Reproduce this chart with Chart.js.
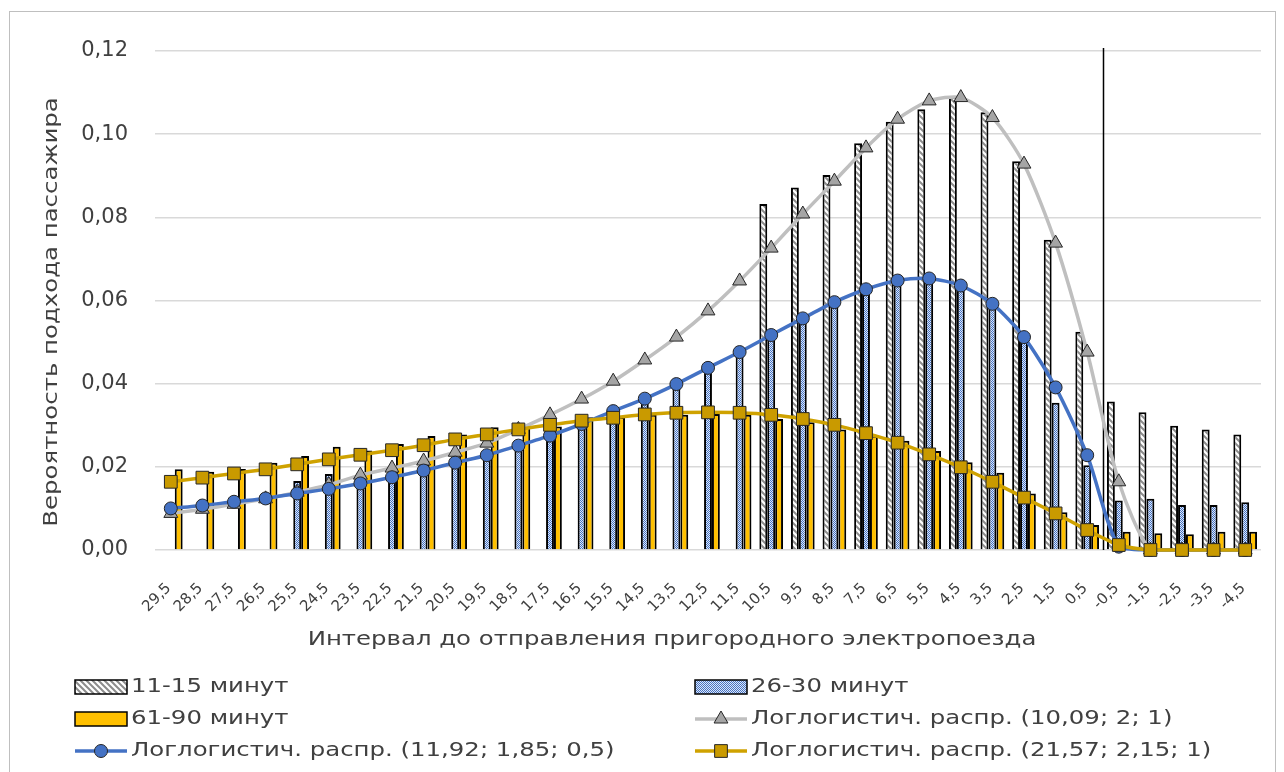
<!DOCTYPE html>
<html>
<head>
<meta charset="utf-8">
<script src="https://cdn.jsdelivr.net/npm/chart.js@4.4.1/dist/chart.umd.min.js"></script>
<style>
  html, body { margin: 0; padding: 0; background: #ffffff; }
  canvas { display: block; }
</style>
</head>
<body>
<canvas id="chart" width="1284" height="772"></canvas>
<script>
// Interval before departure (minutes), shown as category labels
const categories = ['29,5','28,5','27,5','26,5','25,5','24,5','23,5','22,5','21,5','20,5',
  '19,5','18,5','17,5','16,5','15,5','14,5','13,5','12,5','11,5','10,5',
  '9,5','8,5','7,5','6,5','5,5','4,5','3,5','2,5','1,5','0,5',
  '-0,5','-1,5','-2,5','-3,5','-4,5'];

// Observed arrival probabilities (bars)
const obs11to15 = [null,null,null,null,null,null,null,null,null,null,
  null,null,null,null,null,null,null,null,null,0.0832,
  0.0872,0.0902,0.0978,0.1030,0.1060,0.1090,0.1053,0.0935,0.0746,0.0525,
  0.0357,0.0331,0.0299,0.0290,0.0278];
const obs26to30 = [null,null,null,null,0.0166,0.0183,0.0186,0.0180,0.0190,0.0205,
  0.0224,0.0248,0.0272,0.0300,0.0331,0.0362,0.0396,0.0434,0.0472,0.0512,
  0.0552,0.0590,0.0622,0.0640,0.0648,0.0630,0.0585,0.0505,0.0354,0.0204,
  0.0119,0.0123,0.0108,0.0108,0.0115];
const obs61to90 = [0.0194,0.0188,0.0195,0.0210,0.0226,0.0248,0.0239,0.0255,0.0274,0.0278,
  0.0295,0.0298,0.0297,0.0319,0.0319,0.0325,0.0325,0.0327,0.0325,0.0315,
  0.0307,0.0290,0.0275,0.0263,0.0238,0.0211,0.0186,0.0136,0.0091,0.0060,
  0.0044,0.0040,0.0038,0.0044,0.0044];

// Fitted log-logistic curves (lines)
const fitA = [0.0088,0.0098,0.0110,0.0123,0.0139,0.0157,0.0180,0.0197,0.0214,0.0235,
  0.0257,0.0290,0.0325,0.0363,0.0406,0.0457,0.0512,0.0575,0.0647,0.0726,
  0.0808,0.0887,0.0967,0.1036,0.1080,0.1088,0.1040,0.0928,0.0738,0.0476,
  0.0164,0,0,0,0];
const fitB = [0.0100,0.0107,0.0116,0.0124,0.0136,0.0147,0.0160,0.0175,0.0191,0.0210,
  0.0228,0.0251,0.0275,0.0303,0.0334,0.0364,0.0399,0.0438,0.0476,0.0517,
  0.0557,0.0596,0.0627,0.0648,0.0653,0.0636,0.0592,0.0512,0.0391,0.0228,
  0.0008,0,0,0,0];
const fitC = [0.0164,0.0174,0.0184,0.0194,0.0206,0.0218,0.0229,0.0240,0.0252,0.0266,
  0.0278,0.0290,0.0301,0.0311,0.0318,0.0326,0.0330,0.0331,0.0330,0.0325,
  0.0315,0.0301,0.0281,0.0258,0.0230,0.0199,0.0164,0.0126,0.0088,0.0048,
  0.0012,0,0,0,0];

const seriesNames = ['11-15 минут', '26-30 минут', '61-90 минут',
  'Логлогистич. распр. (10,09; 2; 1)',
  'Логлогистич. распр. (11,92; 1,85; 0,5)',
  'Логлогистич. распр. (21,57; 2,15; 1)'];

const yTitle = 'Вероятность подхода пассажира';
const xTitle = 'Интервал до отправления пригородного электропоезда';

const FONT = '"DejaVu Sans", sans-serif';
const TEXT = '#404040';
const WIDE = 1.22; // horizontal stretch for a wide geometric look

// Fill patterns for the bars
function hatchFill() {
  const c = document.createElement('canvas');
  c.width = 6; c.height = 6;
  const g = c.getContext('2d');
  g.fillStyle = '#ffffff'; g.fillRect(0, 0, 6, 6);
  g.strokeStyle = '#8c8c8c'; g.lineWidth = 2;
  g.beginPath();
  g.moveTo(-1, -1); g.lineTo(7, 7);
  g.moveTo(-1, 5); g.lineTo(1, 7);
  g.moveTo(5, -1); g.lineTo(7, 1);
  g.stroke();
  return g.createPattern(c, 'repeat');
}
function checkFill() {
  const c = document.createElement('canvas');
  c.width = 2; c.height = 2;
  const g = c.getContext('2d');
  g.fillStyle = '#dfe8f7'; g.fillRect(0, 0, 2, 2);
  g.fillStyle = '#4472c4';
  g.fillRect(0, 0, 1, 1); g.fillRect(1, 1, 1, 1);
  return g.createPattern(c, 'repeat');
}

// Stretched text helper
function wideText(c, text, x, y, align) {
  c.save();
  c.translate(x, y);
  c.scale(WIDE, 1);
  c.textAlign = align;
  c.fillText(text, 0, 0);
  c.restore();
}

const ctx = document.getElementById('chart').getContext('2d');
const hatch = hatchFill();
const check = checkFill();

const barCommon = { type: 'bar', borderColor: '#000000', borderWidth: 2,
  categoryPercentage: 0.75, barPercentage: 1.0, order: 10 };
const lineCommon = { type: 'line', borderWidth: 3.5, tension: 0.25, clip: false,
  pointBorderColor: '#262626', pointBorderWidth: 1, pointHoverRadius: 0 };

const datasets = [
  Object.assign({}, barCommon, { label: seriesNames[0], data: obs11to15, backgroundColor: hatch }),
  Object.assign({}, barCommon, { label: seriesNames[1], data: obs26to30, backgroundColor: check }),
  Object.assign({}, barCommon, { label: seriesNames[2], data: obs61to90, backgroundColor: '#ffc000' }),
  Object.assign({}, lineCommon, { label: seriesNames[3], data: fitA, borderColor: '#bfbfbf',
    pointStyle: 'triangle', pointRadius: 8, pointBackgroundColor: '#a5a5a5', order: 3 }),
  Object.assign({}, lineCommon, { label: seriesNames[4], data: fitB, borderColor: '#4472c4',
    pointStyle: 'circle', pointRadius: 6.5, pointBackgroundColor: '#4472c4', order: 2 }),
  Object.assign({}, lineCommon, { label: seriesNames[5], data: fitC, borderColor: '#cfa200',
    pointStyle: 'rect', pointRadius: 9, pointBackgroundColor: '#c99a00', order: 1 })
];

// Extra drawing: frame, vertical zero line, rotated category labels, axis titles, legend
const decorations = {
  id: 'decorations',
  beforeDraw(chart) {
    const c = chart.ctx;
    c.save();
    c.strokeStyle = '#bfbfbf';
    c.lineWidth = 1;
    c.strokeRect(9.5, 11.5, 1266, 800);
    c.restore();
  },
  beforeDatasetsDraw(chart) {
    const c = chart.ctx;
    const xs = chart.scales.x;
    const a = chart.chartArea;
    const xLine = (xs.getPixelForValue(29) + xs.getPixelForValue(30)) / 2;
    c.save();
    c.strokeStyle = '#000000';
    c.lineWidth = 1.5;
    c.beginPath();
    c.moveTo(Math.round(xLine) + 0.5, a.top - 3);
    c.lineTo(Math.round(xLine) + 0.5, a.bottom);
    c.stroke();
    c.restore();
  },
  afterDraw(chart) {
    const c = chart.ctx;
    const xs = chart.scales.x;
    const a = chart.chartArea;
    c.save();
    c.fillStyle = TEXT;
    // category labels
    c.font = '15px ' + FONT;
    c.textAlign = 'right';
    c.textBaseline = 'middle';
    categories.forEach((lab, i) => {
      const x = xs.getPixelForValue(i);
      c.save();
      c.translate(x - 2, a.bottom + 36);
      c.rotate(-Math.PI / 4);
      c.fillText(lab, 0, 0);
      c.restore();
    });
    // axis titles
    c.font = '20px ' + FONT;
    wideText(c, xTitle, 672, 640, 'center');
    c.save();
    c.translate(52, 312);
    c.rotate(-Math.PI / 2);
    wideText(c, yTitle, 0, 0, 'center');
    c.restore();

    // legend, two columns
    const cols = [75, 695];
    const rows = [687, 719, 751];
    const boxW = 52;
    chart.data.datasets.forEach((ds, i) => {
      const x0 = cols[i % 2];
      const y = rows[Math.floor(i / 2)];
      c.save();
      if (ds.type === 'bar') {
        c.fillStyle = ds.backgroundColor;
        c.fillRect(x0, y - 7, boxW, 14);
        c.strokeStyle = '#000000';
        c.lineWidth = 1.5;
        c.strokeRect(x0, y - 7, boxW, 14);
      } else {
        c.strokeStyle = ds.borderColor;
        c.lineWidth = ds.borderWidth;
        c.beginPath();
        c.moveTo(x0, y); c.lineTo(x0 + boxW, y);
        c.stroke();
        c.fillStyle = ds.pointBackgroundColor;
        c.strokeStyle = ds.pointBorderColor;
        c.lineWidth = ds.pointBorderWidth;
        Chart.helpers.drawPoint(c, { pointStyle: ds.pointStyle, radius: ds.pointRadius, borderWidth: 1 }, x0 + boxW / 2, y);
      }
      c.restore();
      c.fillStyle = TEXT;
      c.font = '20px ' + FONT;
      c.textBaseline = 'middle';
      wideText(c, ds.label, x0 + boxW + 4, y, 'left');
    });
    c.restore();
  }
};

new Chart(ctx, {
  data: { labels: categories, datasets: datasets },
  options: {
    responsive: false,
    animation: false,
    devicePixelRatio: 1,
    layout: { padding: { top: 51, right: 23, bottom: 222, left: 0 } },
    plugins: { legend: { display: false }, tooltip: { enabled: false } },
    scales: {
      x: {
        type: 'category',
        offset: true,
        grid: { display: false },
        border: { display: false },
        ticks: { display: false },
        afterFit(s) { s.height = 0; }
      },
      y: {
        min: 0, max: 0.12,
        grid: { color: '#d9d9d9', lineWidth: 1.5, drawTicks: false },
        border: { display: false },
        ticks: {
          stepSize: 0.02,
          padding: 27,
          color: TEXT,
          font: { family: FONT, size: 21 },
          callback: (v) => v.toFixed(2).replace('.', ',')
        },
        afterFit(s) { s.width = 155; }
      }
    }
  },
  plugins: [decorations]
});
</script>
</body>
</html>
